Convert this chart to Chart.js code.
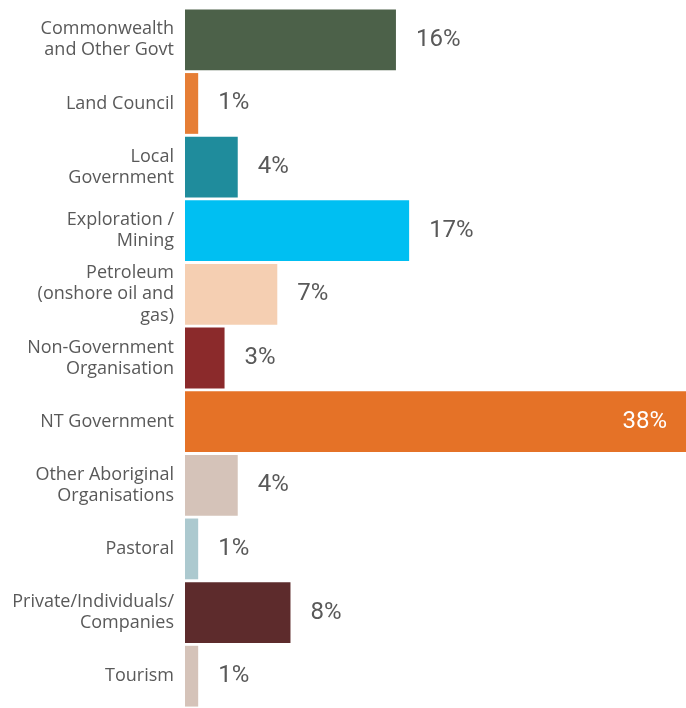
<!DOCTYPE html>
<html>
<head>
<meta charset="utf-8">
<script src="https://cdn.jsdelivr.net/npm/chart.js@4"></script>
<style>
  body { margin: 0; background: #fff; }
  #wrap { width: 686px; height: 708px; }
</style>
</head>
<body>
<div id="wrap"><canvas id="myChart" width="686" height="708"></canvas></div>
<script>
let categories = [
    ['Commonwealth', 'and Other Govt'],
    'Land Council',
    ['Local', 'Government'],
    ['Exploration /', 'Mining'],
    ['Petroleum', '(onshore oil and', 'gas)'],
    ['Non-Government', 'Organisation'],
    'NT Government',
    ['Other Aboriginal', 'Organisations'],
    'Pastoral',
    ['Private/Individuals/', 'Companies'],
    'Tourism'
];

let shares = [16, 1, 4, 17, 7, 3, 38, 4, 1, 8, 1];

let colors = [
    '#4c6149',
    '#e67e35',
    '#1f8c9c',
    '#00bff2',
    '#f5cfb2',
    '#8b2a2b',
    '#e57227',
    '#d5c3b9',
    '#acc9cf',
    '#5d2b2c',
    '#d5c3b9'
];

// percentage text next to each bar, the biggest one goes inside
const valueLabels = {
    id: 'valueLabels',
    afterDatasetsDraw(chart) {
        const ctx = chart.ctx;
        const meta = chart.getDatasetMeta(0);
        const data = chart.data.datasets[0].data;
        const maxVal = Math.max(...data);
        ctx.save();
        ctx.font = '24px Roboto';
        ctx.textBaseline = 'middle';
        meta.data.forEach(function(bar, i) {
            let txt = data[i] + '%';
            if (data[i] === maxVal) {
                ctx.fillStyle = '#ffffff';
                ctx.textAlign = 'right';
                ctx.fillText(txt, bar.x - 19, bar.y);
            } else {
                ctx.fillStyle = '#595959';
                ctx.textAlign = 'left';
                ctx.fillText(txt, bar.x + 20, bar.y);
            }
        });
        ctx.restore();
    }
};

var ctx = document.getElementById('myChart').getContext('2d');

var chart = new Chart(ctx, {
    type: 'bar',
    data: {
        labels: categories,
        datasets: [{
            data: shares,
            backgroundColor: colors,
            barPercentage: 0.955,
            categoryPercentage: 1
        }]
    },
    options: {
        indexAxis: 'y',
        responsive: false,
        animation: false,
        layout: { padding: { top: 8, right: 0, bottom: -2, left: 0 } },
        plugins: {
            legend: { display: false },
            tooltip: { enabled: false }
        },
        scales: {
            x: {
                display: false,
                min: 0,
                max: 38
            },
            y: {
                grid: { display: false, drawTicks: false },
                border: { display: false },
                afterFit: function(axis) {
                    axis.width = 185;
                    // don't let the tall labels push the bars inwards
                    axis.paddingTop = 0;
                    axis.paddingBottom = 0;
                },
                ticks: {
                    autoSkip: false,
                    color: '#595959',
                    padding: 11,
                    font: { family: 'Open Sans', size: 18, lineHeight: 1.17 }
                }
            }
        }
    },
    plugins: [valueLabels]
});
</script>
</body>
</html>
